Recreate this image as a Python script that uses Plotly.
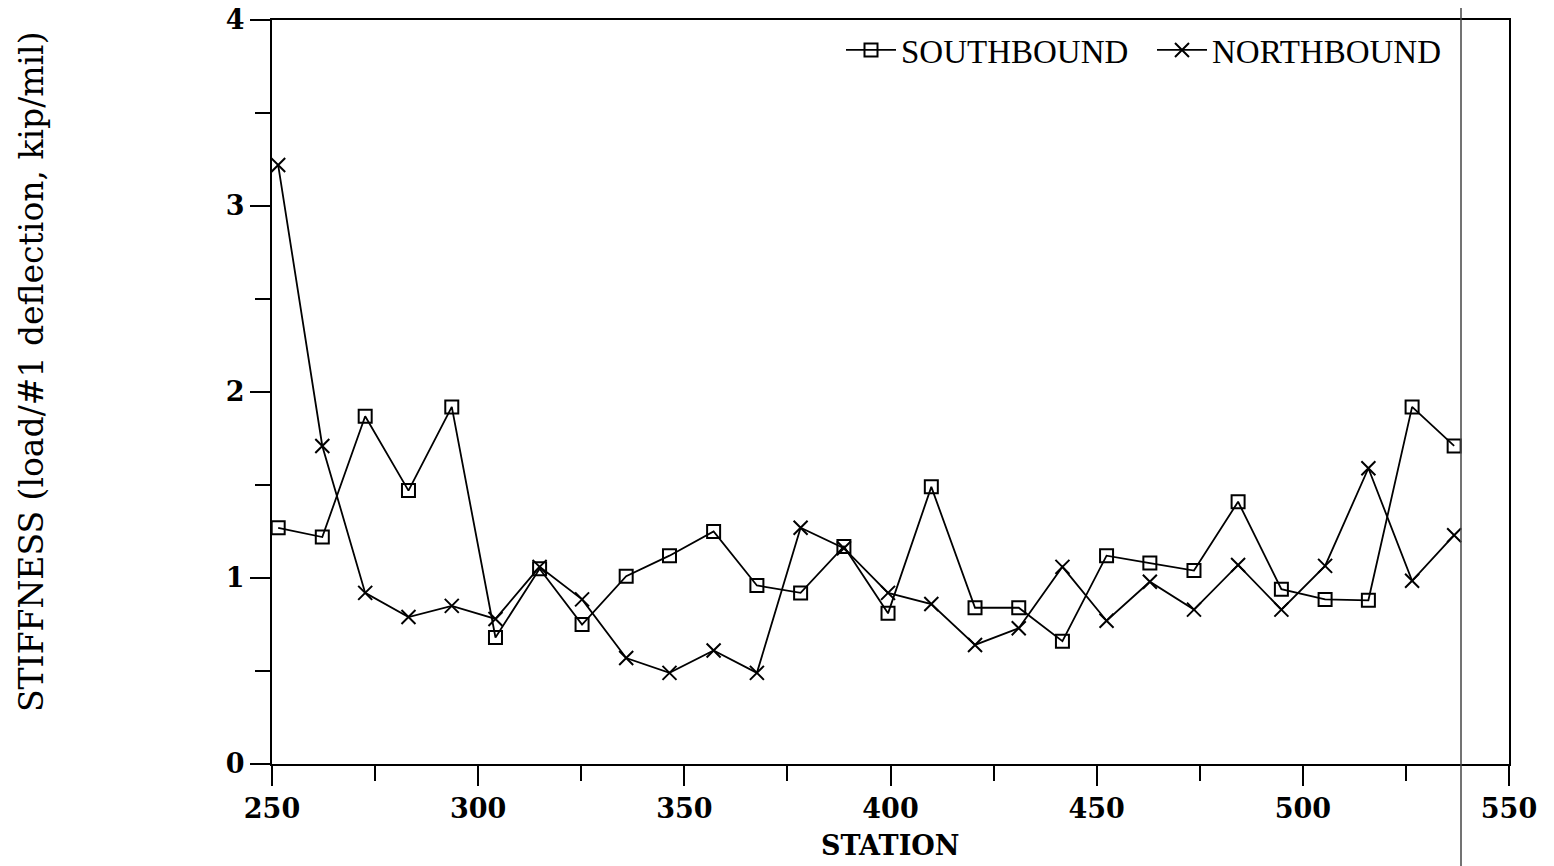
import plotly.graph_objects as go

stations = [251.5, 262.2, 272.6, 283.1, 293.6, 304.2, 314.9, 325.2, 335.9, 346.4,
            357.1, 367.6, 378.2, 388.7, 399.4, 409.9, 420.5, 431.1, 441.7, 452.4,
            462.9, 473.6, 484.3, 494.8, 505.4, 515.9, 526.5, 536.7]
southbound = [1.27, 1.22, 1.87, 1.47, 1.92, 0.68, 1.05, 0.75, 1.01, 1.12,
              1.25, 0.96, 0.92, 1.17, 0.81, 1.49, 0.84, 0.84, 0.66, 1.12,
              1.08, 1.04, 1.41, 0.94, 0.885, 0.88, 1.92, 1.71]
northbound = [3.22, 1.71, 0.92, 0.79, 0.85, 0.78, 1.06, 0.885, 0.57, 0.49,
              0.61, 0.49, 1.27, 1.16, 0.92, 0.86, 0.64, 0.73, 1.06, 0.77,
              0.98, 0.83, 1.07, 0.83, 1.065, 1.59, 0.985, 1.23]

x_ticks = [250, 300, 350, 400, 450, 500, 550]
y_ticks = [0, 1, 2, 3, 4]

FONT = "DejaVu Serif"
LEGEND_FONT = "Liberation Serif"

# page has an 8px body margin; figure is sized so the plot lands where the reference has it
OFF = 8
L, R, T, B = 272 - OFF, 45, 20 - OFF, 102
W, H = 1554 - OFF, 866 - OFF
PW = W - L - R
PH = H - T - B


def px_x(px):
    return (px - OFF - L) / PW


def px_y(py):
    return (H - B - (py - OFF)) / PH


fig = go.Figure()
fig.add_trace(go.Scatter(
    x=stations, y=southbound, name="SOUTHBOUND", mode="lines+markers",
    line=dict(color="black", width=1.8),
    marker=dict(symbol="square-open", size=13, color="black", line=dict(width=2)),
))
fig.add_trace(go.Scatter(
    x=stations, y=northbound, name="NORTHBOUND", mode="lines+markers",
    line=dict(color="black", width=1.8),
    marker=dict(symbol="x-thin-open", size=14, color="black", line=dict(width=2, color="black")),
))

axis_common = dict(
    showgrid=False, zeroline=False, showline=True, linecolor="black", linewidth=2,
    mirror=True, ticks="outside", tickcolor="black", tickwidth=2, ticklen=20,
    tickfont=dict(family=FONT, size=27, color="black", weight="bold"), automargin=False,
    ticklabeloverflow="allow",
)

fig.update_xaxes(
    range=[250, 550], tickvals=x_ticks, ticktext=[str(v) for v in x_ticks],
    minor=dict(dtick=25, tick0=250, ticklen=15, tickcolor="black", tickwidth=2, ticks="outside"),
    **axis_common,
)
fig.update_yaxes(
    range=[0, 4], tickvals=y_ticks, ticktext=[str(v) for v in y_ticks],
    minor=dict(dtick=0.5, tick0=0, ticklen=15, tickcolor="black", tickwidth=2, ticks="outside"),
    **axis_common,
)

fig.add_annotation(text="STATION", xref="paper", yref="paper",
                   x=px_x(890), y=px_y(845),
                   xanchor="center", yanchor="middle", showarrow=False,
                   font=dict(family=FONT, size=27, color="black", weight="bold"))
fig.add_annotation(text="STIFFNESS (load/#1 deflection, kip/mil)", xref="paper", yref="paper",
                   x=px_x(31), y=px_y(372), textangle=-90,
                   xanchor="center", yanchor="middle", showarrow=False,
                   font=dict(family=FONT, size=33, color="black"))

# scanning artifact: thin vertical line across the page
fig.add_shape(type="line", xref="paper", yref="paper",
              x0=px_x(1461), x1=px_x(1461),
              y0=px_y(866), y1=px_y(0),
              line=dict(color="#444", width=1.5), layer="above")

fig.update_layout(
    width=W, height=H,
    margin=dict(l=L, r=R, t=T, b=B),
    paper_bgcolor="white", plot_bgcolor="white",
    showlegend=True,
    legend=dict(orientation="h", x=px_x(1463), xanchor="right",
                y=px_y(50), yanchor="middle",
                bgcolor="rgba(0,0,0,0)", font=dict(family=LEGEND_FONT, size=33, color="black"),
                itemwidth=50, entrywidth=246, entrywidthmode="pixels"),
)

fig.write_html("out.html")
